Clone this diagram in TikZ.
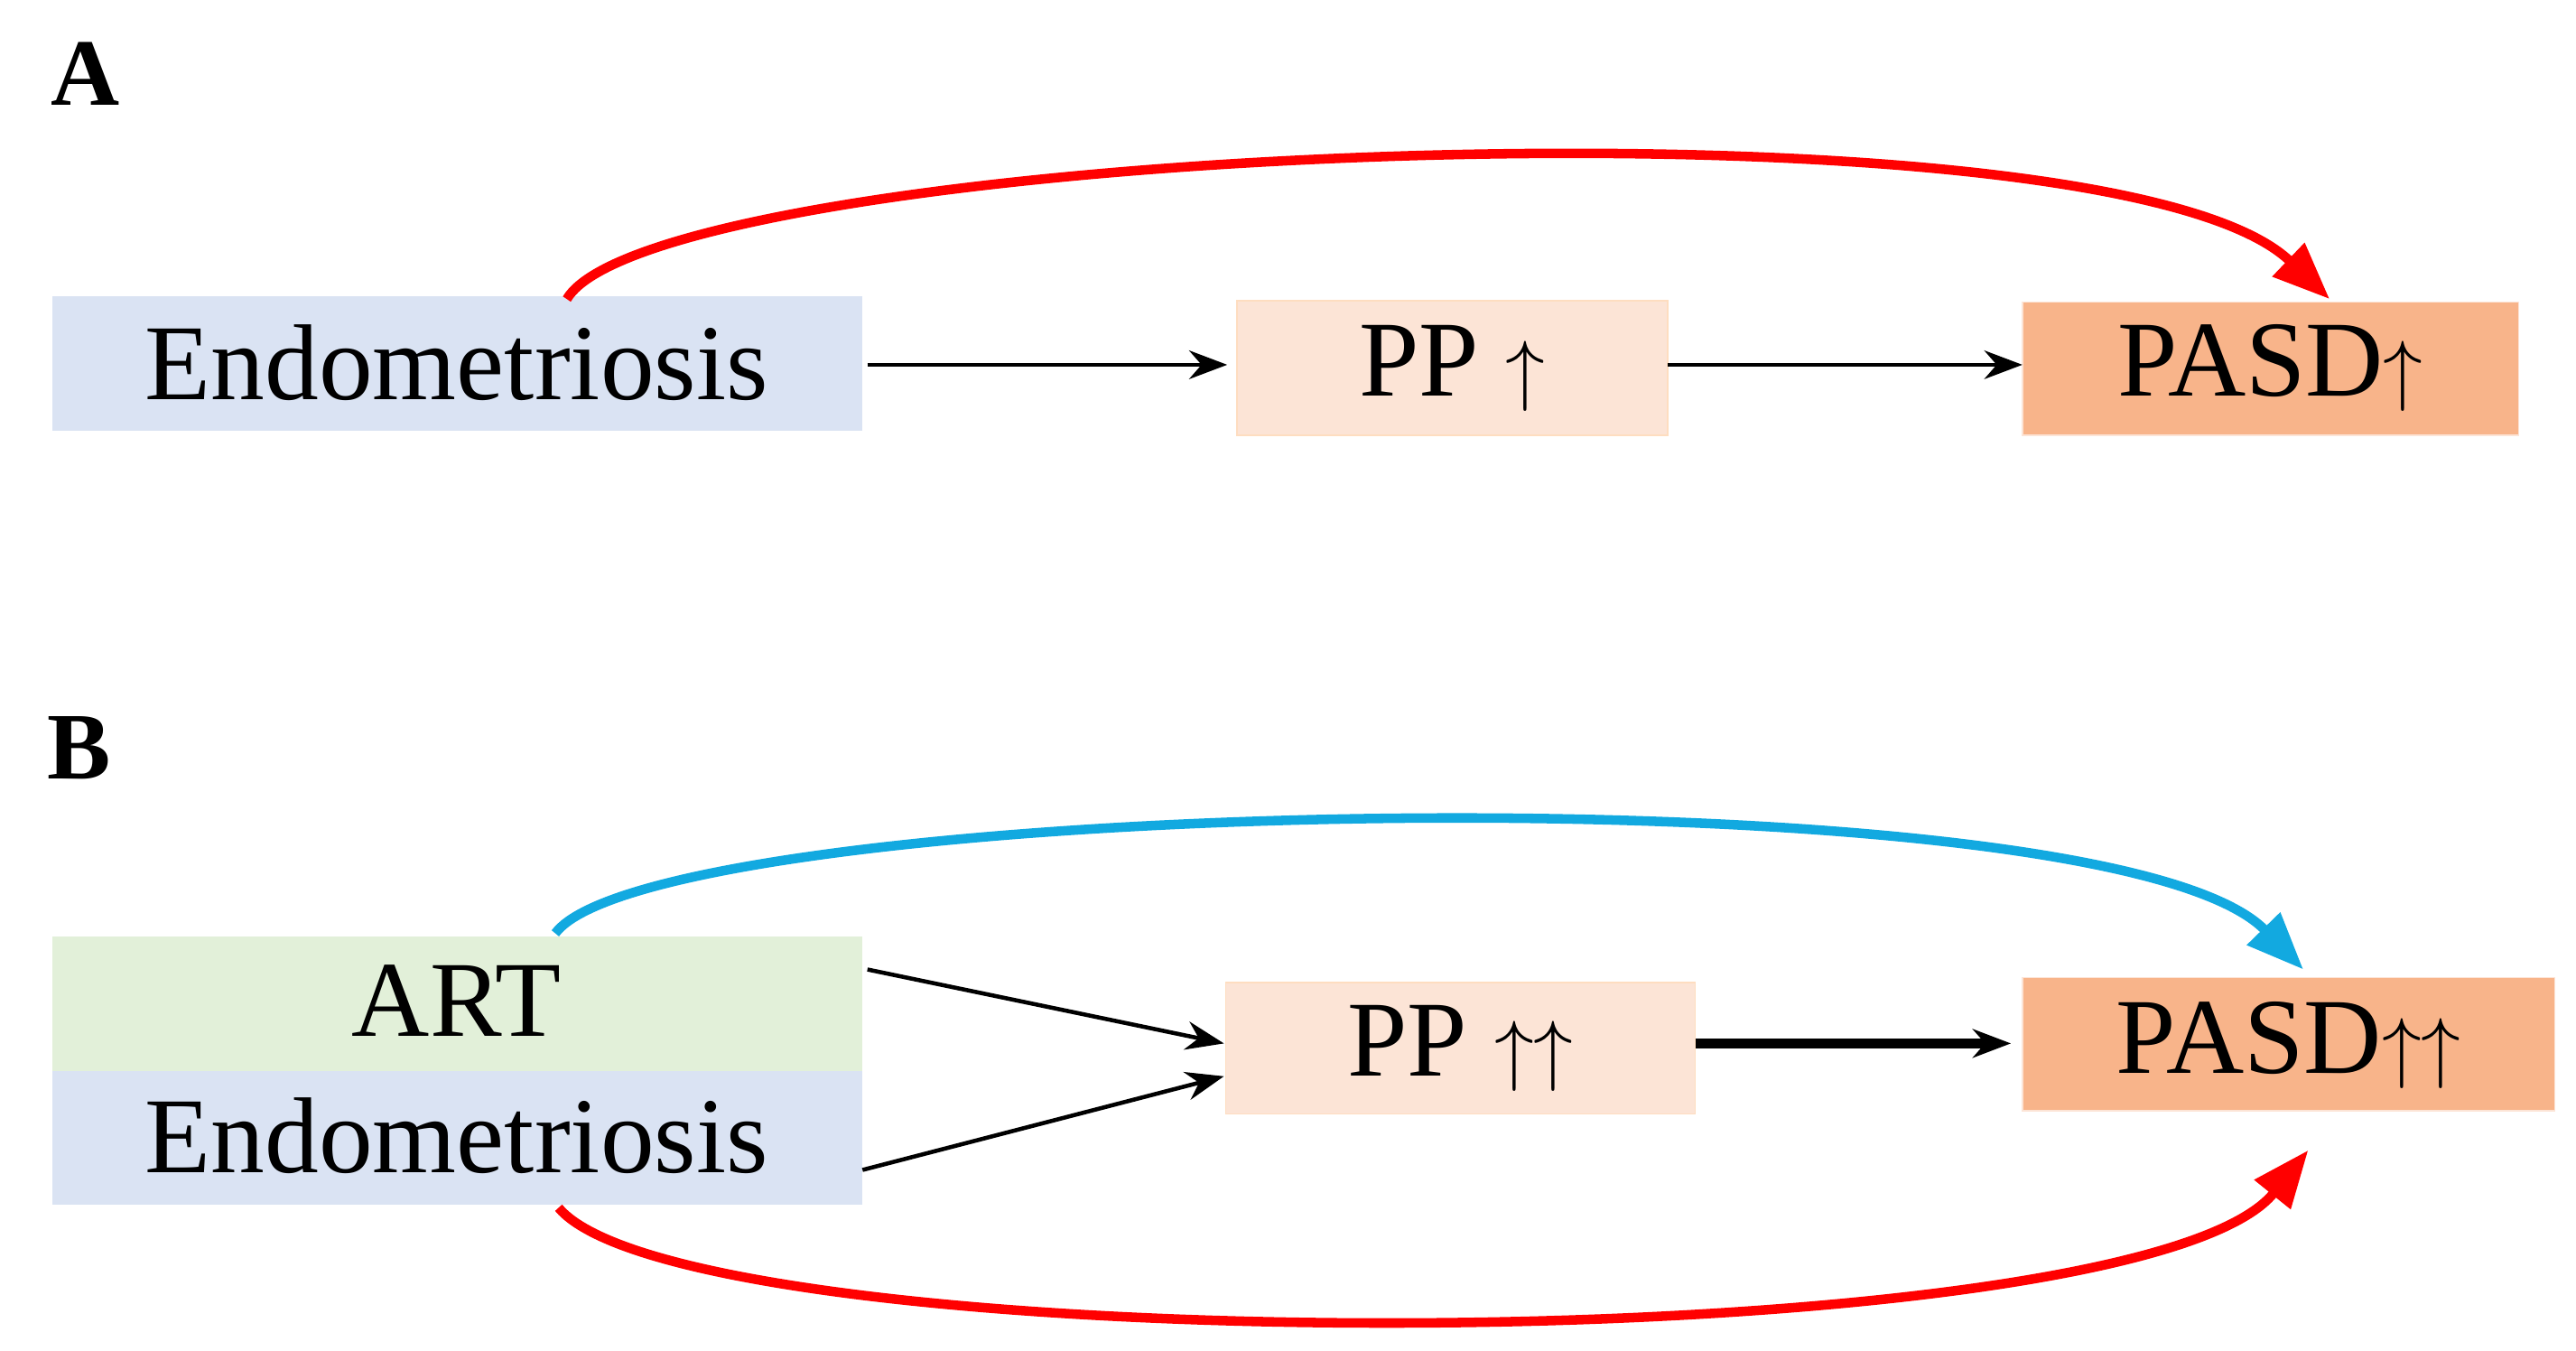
\documentclass[tikz,border=0pt]{standalone}
\usepackage{fontspec}
\setmainfont{Liberation Serif}
\usetikzlibrary{arrows.meta}
\definecolor{endoblue}{HTML}{DAE3F3}
\definecolor{artgreen}{HTML}{E2F0D9}
\definecolor{pplight}{HTML}{FCE4D6}
\definecolor{pasdorange}{HTML}{F8B48A}
\definecolor{arcblue}{HTML}{12A9E0}
\begin{document}
\begin{tikzpicture}[x=0.0182cm,y=-0.0182cm,
    box/.style={draw=none,inner sep=0pt,font=\fontsize{34}{40}\selectfont},
    flow/.style={-{Stealth[length=12pt,width=9pt]},line width=1.3pt},
    arc/.style={-{Triangle[length=18pt,width=14pt]},line width=3pt}]
\useasboundingbox (0,0) rectangle (1568,822);
% panel A
\node[font=\fontsize{30}{34}\selectfont\bfseries] (labA) at (52,45) {A};
\fill[endoblue] (32,180) rectangle (525,262);
\node[box] (endoA) at (278,221) {Endometriosis};
\filldraw[fill=pplight,draw=pplight!70!orange!60] (753,183) rectangle (1015,265);
\node[box] (ppA) at (884,224) {PP $\uparrow$};
\filldraw[fill=pasdorange,draw=pplight] (1231,184) rectangle (1533,265);
\node[box] (pasdA) at (1382,224) {PASD$\uparrow$};
\coordinate (endoAr) at (528,222); \coordinate (ppAl) at (747,222);
\coordinate (ppAr) at (1015,222); \coordinate (pasdAl) at (1231,222);
\draw[flow] (endoAr) -- (ppAl);
\draw[flow] (ppAr) -- (pasdAl);
\coordinate (arcAs) at (345,182); \coordinate (arcAe) at (1418,182);
\draw[arc,red] (arcAs) .. controls (400,90) and (1280,50) .. (arcAe);
% panel B
\node[font=\fontsize{30}{34}\selectfont\bfseries] (labB) at (48,455) {B};
\fill[artgreen] (32,570) rectangle (525,652);
\fill[endoblue] (32,652) rectangle (525,733);
\node[box] (art) at (278,609) {ART};
\node[box] (endoB) at (278,691) {Endometriosis};
\filldraw[fill=pplight,draw=pplight!70!orange!60] (746,598) rectangle (1032,678);
\node[box] (ppB) at (889,638) {PP $\uparrow\uparrow$};
\filldraw[fill=pasdorange,draw=pplight] (1231,595) rectangle (1555,676);
\node[box] (pasdB) at (1393,636) {PASD$\uparrow\uparrow$};
\coordinate (artr) at (528,590); \coordinate (endoBr) at (525,712);
\coordinate (ppBa) at (745,635); \coordinate (ppBb) at (745,655);
\coordinate (ppBr) at (1032,635); \coordinate (pasdBl) at (1224,635);
\draw[flow] (artr) -- (ppBa);
\draw[flow] (endoBr) -- (ppBb);
\draw[flow,line width=3pt] (ppBr) -- (pasdBl);
\coordinate (arcBs) at (338,568); \coordinate (arcBe) at (1402,590);
\draw[arc,arcblue] (arcBs) .. controls (400,485) and (1280,465) .. (arcBe);
\coordinate (arcCs) at (340,735); \coordinate (arcCe) at (1405,700);
\draw[arc,red] (arcCs) .. controls (420,830) and (1300,830) .. (arcCe);
\end{tikzpicture}
\end{document}
